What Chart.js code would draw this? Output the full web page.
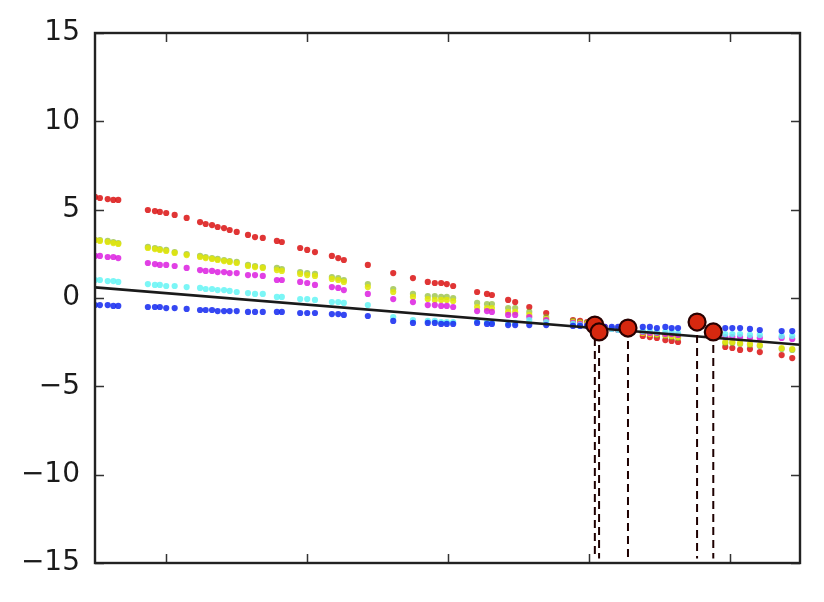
<!DOCTYPE html>
<html>
<head>
<meta charset="utf-8">
<script src="https://cdn.jsdelivr.net/npm/chart.js@4.4.1/dist/chart.umd.min.js"></script>
<style>
    html, body { margin: 0; padding: 0; background: #fff; }
    #wrap { width: 824px; height: 602px; }
</style>
</head>
<body>
<div id="wrap"><canvas id="myChart" width="824" height="602"></canvas></div>
<script>
const xValues = [
    0.00, 0.07, 0.18, 0.26, 0.33,
    0.75, 0.85, 0.92, 1.01, 1.13, 1.30,
    1.49, 1.57, 1.66, 1.74, 1.83, 1.91, 2.01,
    2.17, 2.27, 2.38,
    2.58, 2.65,
    2.91, 3.01, 3.12,
    3.36, 3.45, 3.53,
    3.87, 4.23, 4.51,
    4.72, 4.82, 4.91, 4.99, 5.08,
    5.42, 5.56, 5.63,
    5.86, 5.96,
    6.16, 6.40,
    6.78, 6.88, 6.98,
    7.23, 7.33, 7.42,
    7.77, 7.87, 7.97, 8.09, 8.18, 8.27,
    8.94, 9.04, 9.15, 9.29, 9.43,
    9.74, 9.89
];

const redValues = [
    5.72, 5.66, 5.60, 5.55, 5.55,
    4.98, 4.92, 4.87, 4.81, 4.70, 4.53,
    4.30, 4.19, 4.13, 4.02, 3.96, 3.85, 3.74,
    3.57, 3.45, 3.40,
    3.23, 3.17,
    2.83, 2.72, 2.60,
    2.38, 2.26, 2.15,
    1.87, 1.41, 1.13,
    0.91, 0.85, 0.85, 0.79, 0.68,
    0.34, 0.23, 0.17,
    -0.11, -0.23,
    -0.51, -0.85,
    -1.25, -1.30, -1.36,
    -1.64, -1.75, -1.81,
    -2.15, -2.21, -2.26, -2.38, -2.43, -2.49,
    -2.77, -2.83, -2.94, -2.89, -3.06,
    -3.23, -3.40
];

const greenValues = [
    3.28, 3.28, 3.23, 3.17, 3.11,
    2.89, 2.83, 2.77, 2.72, 2.60, 2.49,
    2.38, 2.32, 2.26, 2.21, 2.15, 2.09, 2.04,
    1.87, 1.81, 1.75,
    1.70, 1.64,
    1.47, 1.41, 1.36,
    1.19, 1.13, 1.02,
    0.79, 0.51, 0.23,
    0.11, 0.11, 0.06, 0.06, 0.00,
    -0.28, -0.34, -0.34,
    -0.57, -0.57,
    -0.79, -1.08,
    -1.30, -1.36, -1.41,
    -1.70, -1.75, -1.75,
    -1.98, -2.04, -2.09, -2.15, -2.21, -2.26,
    -2.55, -2.55, -2.60, -2.66, -2.72,
    -2.89, -2.94
];

const yellowValues = [
    3.28, 3.23, 3.17, 3.11, 3.06,
    2.83, 2.77, 2.72, 2.66, 2.55, 2.43,
    2.32, 2.26, 2.21, 2.15, 2.09, 2.04, 1.98,
    1.81, 1.75, 1.70,
    1.58, 1.53,
    1.36, 1.30, 1.25,
    1.08, 1.02, 0.91,
    0.62, 0.34, 0.06,
    -0.06, -0.11, -0.11, -0.11, -0.17,
    -0.51, -0.57, -0.57,
    -0.79, -0.79,
    -0.96, -1.19,
    -1.36, -1.41, -1.47,
    -1.70, -1.75, -1.75,
    -1.98, -2.04, -2.04, -2.09, -2.15, -2.21,
    -2.49, -2.49, -2.55, -2.60, -2.66,
    -2.83, -2.89
];

const magentaValues = [
    2.38, 2.38, 2.32, 2.32, 2.26,
    1.98, 1.92, 1.87, 1.87, 1.81, 1.70,
    1.58, 1.53, 1.53, 1.47, 1.47, 1.41, 1.41,
    1.30, 1.30, 1.25,
    1.02, 1.02,
    0.91, 0.85, 0.74,
    0.62, 0.57, 0.45,
    0.23, -0.06, -0.23,
    -0.40, -0.40, -0.45, -0.45, -0.51,
    -0.74, -0.74, -0.79,
    -0.96, -0.96,
    -1.08, -1.25,
    -1.41, -1.47, -1.53,
    -1.70, -1.75, -1.81,
    -1.92, -1.98, -1.98, -2.04, -2.04, -2.09,
    -2.21, -2.21, -2.21, -2.26, -2.26,
    -2.26, -2.32
];

const cyanValues = [
    1.02, 1.02, 0.96, 0.96, 0.91,
    0.79, 0.74, 0.74, 0.68, 0.68, 0.62,
    0.57, 0.51, 0.51, 0.45, 0.45, 0.40, 0.34,
    0.28, 0.23, 0.23,
    0.06, 0.06,
    -0.06, -0.06, -0.11,
    -0.23, -0.23, -0.28,
    -0.40, -1.08, -1.25,
    -1.30, -1.30, -1.36, -1.36, -1.36,
    -1.30, -1.36, -1.36,
    -1.41, -1.41,
    -1.25, -1.36,
    -1.47, -1.53, -1.58,
    -1.75, -1.75, -1.81,
    -1.87, -1.87, -1.92, -1.92, -1.92, -1.98,
    -2.04, -2.04, -2.04, -2.09, -2.09,
    -2.15, -2.15
];

const blueValues = [
    -0.40, -0.40, -0.40, -0.45, -0.45,
    -0.51, -0.51, -0.51, -0.57, -0.57, -0.62,
    -0.68, -0.68, -0.68, -0.74, -0.74, -0.74, -0.74,
    -0.79, -0.79, -0.79,
    -0.79, -0.79,
    -0.85, -0.85, -0.85,
    -0.91, -0.91, -0.96,
    -1.02, -1.30, -1.41,
    -1.41, -1.41, -1.47, -1.47, -1.47,
    -1.41, -1.47, -1.47,
    -1.53, -1.53,
    -1.53, -1.53,
    -1.58, -1.58, -1.58,
    -1.64, -1.64, -1.64,
    -1.64, -1.64, -1.70, -1.64, -1.70, -1.70,
    -1.70, -1.70, -1.70, -1.75, -1.81,
    -1.87, -1.87
];

// fitted line, two ends
const fitX = [0, 10];
const fitY = [0.60, -2.65];

// highlighted points, each with a dashed stem to the bottom
const markX = [7.09, 7.15, 7.56, 8.54, 8.77];
const markY = [-1.53, -1.92, -1.70, -1.36, -1.92];
const stemBottom = -14.75;

const yTicks = [-15, -10, -5, 0, 5, 10, 15];
const xTicks = [1, 3, 5, 7, 9];

const toPoints = (xs, ys) => xs.map((x, i) => ({ x: x, y: ys[i] }));

const dotSeries = [
    { values: blueValues, color: 'rgba(25, 45, 240, 0.88)' },
    { values: cyanValues, color: 'rgba(100, 245, 245, 0.85)' },
    { values: magentaValues, color: 'rgba(220, 30, 225, 0.85)' },
    { values: yellowValues, color: 'rgba(225, 230, 10, 0.88)' },
    { values: greenValues, color: 'rgba(130, 180, 30, 0.65)' },
    { values: redValues, color: 'rgba(220, 25, 25, 0.88)' },
];

const datasets = [];

datasets.push({
    data: toPoints(markX, markY),
    backgroundColor: 'rgb(215, 40, 15)',
    borderColor: 'rgb(40, 0, 0)',
    borderWidth: 2.2,
    pointRadius: 8.5,
    showLine: false,
    order: 0
});

markX.forEach((x, i) => {
    datasets.push({
        data: [{ x: x, y: markY[i] }, { x: x, y: stemBottom }],
        borderColor: 'rgb(30, 0, 0)',
        borderWidth: 2,
        borderDash: [8, 5],
        pointRadius: 0,
        showLine: true,
        order: 1
    });
});

datasets.push({
    data: toPoints(fitX, fitY),
    borderColor: '#1a1a1a',
    borderWidth: 2.6,
    pointRadius: 0,
    showLine: true,
    order: 2
});

dotSeries.forEach((s, i) => {
    datasets.push({
        data: toPoints(xValues, s.values),
        backgroundColor: s.color,
        borderWidth: 0,
        pointRadius: 3.1,
        showLine: false,
        order: 3 + i
    });
});

// frame and inward tick marks, like the classic matplotlib look
const framePlugin = {
    id: 'frame',
    afterDatasetsDraw(chart) {
        const ctx = chart.ctx;
        const a = chart.chartArea;
        const xs = chart.scales.x;
        const ys = chart.scales.y;
        ctx.save();
        ctx.strokeStyle = '#333';
        ctx.lineWidth = 1.5;
        xTicks.forEach((t) => {
            const px = Math.round(xs.getPixelForValue(t)) + 0.5;
            ctx.beginPath();
            ctx.moveTo(px, a.bottom); ctx.lineTo(px, a.bottom - 9);
            ctx.moveTo(px, a.top); ctx.lineTo(px, a.top + 9);
            ctx.stroke();
        });
        yTicks.forEach((t) => {
            const py = Math.round(ys.getPixelForValue(t)) + 0.5;
            ctx.beginPath();
            ctx.moveTo(a.left, py); ctx.lineTo(a.left + 9, py);
            ctx.moveTo(a.right, py); ctx.lineTo(a.right - 9, py);
            ctx.stroke();
        });
        ctx.lineWidth = 2.4;
        ctx.strokeStyle = '#222';
        ctx.strokeRect(a.left, a.top, a.right - a.left, a.bottom - a.top);
        ctx.restore();
    }
};

const config = {
    type: 'scatter',
    data: { datasets: datasets },
    options: {
        responsive: false,
        animation: false,
        layout: { padding: { left: 0, right: 24, top: 33, bottom: 39 } },
        plugins: {
            legend: { display: false },
            tooltip: { enabled: false }
        },
        scales: {
            x: {
                type: 'linear',
                min: 0,
                max: 10,
                grid: { display: false },
                border: { display: false },
                ticks: { display: false },
                afterFit(scale) { scale.height = 0; }
            },
            y: {
                min: -15,
                max: 15,
                grid: { display: false },
                border: { display: false },
                afterBuildTicks(scale) {
                    scale.ticks = yTicks.map((v) => ({ value: v }));
                },
                afterFit(scale) { scale.width = 95; },
                ticks: {
                    padding: 7,
                    color: '#1a1a1a',
                    font: { family: 'DejaVu Sans', size: 28 },
                    callback: (v) => String(v).replace('-', '\u2212')
                }
            }
        }
    },
    plugins: [framePlugin]
};

const myChart = new Chart(
    document.getElementById('myChart'),
    config
);
</script>
</body>
</html>
